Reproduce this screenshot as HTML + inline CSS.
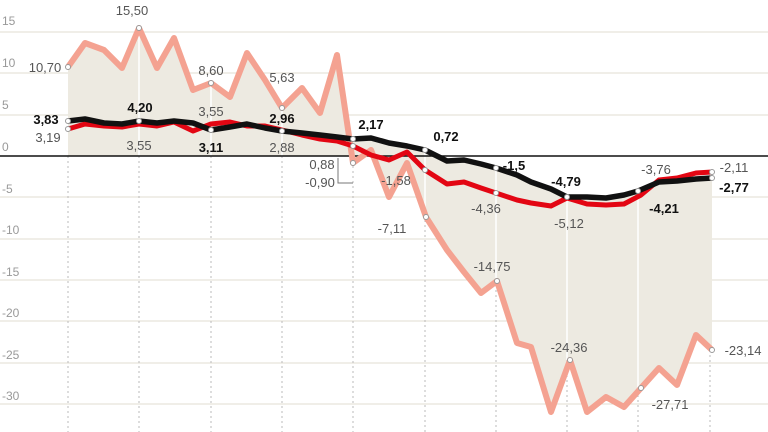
<!DOCTYPE html><html><head><meta charset="utf-8"><style>
html,body{margin:0;padding:0;background:#fff}
svg{display:block}
text{font-family:"Liberation Sans",sans-serif;font-size:13px;fill:#555}
.b{font-weight:bold;fill:#111}
.ax{fill:#999;font-size:12px}
</style></head><body>
<svg width="768" height="432" viewBox="0 0 768 432">
<g stroke="#e2ddd0" stroke-width="1">
<line x1="0" y1="32" x2="768" y2="32"/><line x1="0" y1="73" x2="768" y2="73"/><line x1="0" y1="115" x2="768" y2="115"/>
<line x1="0" y1="197" x2="768" y2="197"/><line x1="0" y1="239" x2="768" y2="239"/><line x1="0" y1="280" x2="768" y2="280"/>
<line x1="0" y1="321" x2="768" y2="321"/><line x1="0" y1="363" x2="768" y2="363"/><line x1="0" y1="404" x2="768" y2="404"/>
</g>
<g class="ax"><text class="ax" x="2" y="25">15</text><text class="ax" x="2" y="67">10</text><text class="ax" x="2" y="109">5</text><text class="ax" x="2" y="151">0</text><text class="ax" x="2" y="193">-5</text><text class="ax" x="2" y="234">-10</text><text class="ax" x="2" y="276">-15</text><text class="ax" x="2" y="317">-20</text><text class="ax" x="2" y="359">-25</text><text class="ax" x="2" y="400">-30</text></g>
<polygon fill="#edeae1" points="68,67 85,43 104,50 122,68 139,28 157,68 174,38 193,90 211,83 230,97 247,53 265,80 282,108 302,88 320,113 337,55 353,163 371,150 389,197 407,163 426,217 447,250 464,272 481,293 497,281 517,343 531,347 551,412 570,360 587,412 606,397 624,407 641,388 659,368 677,385 696,335 712,350 712,178 696,179 677,181 659,182 638,191 624,195 606,198 587,197 567,197 551,189 531,182 517,175 496,168 481,164 464,160 447,161 425,150 407,146 389,143 371,138 353,139 353,156 68,156"/>
<g stroke="#bbb" stroke-width="1" stroke-dasharray="2,3">
<line x1="68" y1="156" x2="68" y2="432"/><line x1="139" y1="156" x2="139" y2="432"/><line x1="211" y1="156" x2="211" y2="432"/><line x1="282" y1="156" x2="282" y2="432"/><line x1="353" y1="156" x2="353" y2="432"/><line x1="425" y1="220" x2="425" y2="432"/><line x1="496" y1="285" x2="496" y2="432"/><line x1="567" y1="360" x2="567" y2="432"/><line x1="638" y1="390" x2="638" y2="432"/><line x1="710" y1="350" x2="710" y2="432"/>
</g>
<g stroke="#fff" stroke-width="1.5">
<line x1="139" y1="28" x2="139" y2="156"/><line x1="211" y1="83" x2="211" y2="156"/><line x1="282" y1="108" x2="282" y2="156"/><line x1="425" y1="150" x2="425" y2="217"/><line x1="496" y1="168" x2="496" y2="281"/><line x1="567" y1="197" x2="567" y2="360"/><line x1="638" y1="191" x2="638" y2="388"/>
</g>
<line x1="0" y1="156" x2="768" y2="156" stroke="#111" stroke-width="1.5"/>
<polyline fill="none" stroke="#f4a291" stroke-width="6" stroke-linejoin="round" points="68,67 85,43 104,50 122,68 139,28 157,68 174,38 193,90 211,83 230,97 247,53 265,80 282,108 302,88 320,113 337,55 353,163 371,150 389,197 407,163 426,217 447,250 464,272 481,293 497,281 517,343 531,347 551,412 570,360 587,412 606,397 624,407 641,388 659,368 677,385 696,335 712,350"/>
<polyline fill="none" stroke="#e30613" stroke-width="5" stroke-linejoin="round" points="68,129 85,124 104,126 122,127 139,124 157,126 174,122 193,131 211,124 230,122 247,126 265,126 282,130 302,135 320,139 337,141 353,146 371,155 389,160 407,152 425,170 447,184 464,182 481,188 496,193 517,200 531,203 551,206 567,198 587,204 606,205 624,204 641,195 659,180 677,178 696,173 712,172"/>
<polyline fill="none" stroke="#111" stroke-width="5.5" stroke-linejoin="round" points="68,121 85,119 104,123 122,124 139,121 157,123 174,121 193,123 211,130 230,127 247,124 265,128 282,131 302,133 320,135 337,137 353,139 371,138 389,143 407,146 425,150 447,161 464,160 481,164 496,168 517,175 531,182 551,189 567,197 587,197 606,198 624,195 638,191 659,182 677,181 696,179 712,178"/>
<g fill="#fff" stroke="#999" stroke-width="1">
<circle cx="68" cy="67" r="2.5"/><circle cx="139" cy="28" r="2.5"/><circle cx="211" cy="83" r="2.5"/><circle cx="282" cy="108" r="2.5"/><circle cx="353" cy="163" r="2.5"/><circle cx="426" cy="217" r="2.5"/><circle cx="497" cy="281" r="2.5"/><circle cx="570" cy="360" r="2.5"/><circle cx="641" cy="388" r="2.5"/><circle cx="712" cy="350" r="2.5"/>
<circle cx="68" cy="121" r="2.5"/><circle cx="68" cy="129" r="2.5"/><circle cx="139" cy="121" r="2.5"/><circle cx="211" cy="130" r="2.5"/><circle cx="282" cy="131" r="2.5"/><circle cx="353" cy="139" r="2.5"/><circle cx="353" cy="146" r="2.5"/><circle cx="425" cy="150" r="2.5"/><circle cx="425" cy="170" r="2.5"/><circle cx="496" cy="168" r="2.5"/><circle cx="496" cy="193" r="2.5"/><circle cx="567" cy="197" r="2.5"/><circle cx="638" cy="191" r="2.5"/><circle cx="712" cy="178" r="2.5"/><circle cx="712" cy="172" r="2.5"/>
</g>
<polyline fill="none" stroke="#777" stroke-width="1" points="338,158 338,183 344,183"/>
<line x1="344" y1="183" x2="353" y2="183" stroke="#777"/>
<g text-anchor="middle">
<text x="132" y="15">15,50</text><text x="211" y="75">8,60</text><text x="282" y="82">5,63</text>
<text x="48" y="142">3,19</text><text x="139" y="150">3,55</text><text x="211" y="116">3,55</text><text x="282" y="152">2,88</text>
<text x="322" y="169">0,88</text><text x="320" y="187">-0,90</text>
<text x="396" y="185">-1,58</text><text x="392" y="233">-7,11</text><text x="486" y="213">-4,36</text><text x="492" y="271">-14,75</text>
<text x="569" y="228">-5,12</text><text x="656" y="174">-3,76</text><text x="569" y="352">-24,36</text><text x="670" y="409">-27,71</text>
<text x="734" y="172">-2,11</text><text x="743" y="355">-23,14</text><text x="45" y="72">10,70</text>
<text class="b" x="46" y="124">3,83</text><text class="b" x="140" y="112">4,20</text><text class="b" x="211" y="152">3,11</text><text class="b" x="282" y="123">2,96</text>
<text class="b" x="371" y="129">2,17</text><text class="b" x="446" y="141">0,72</text><text class="b" x="514" y="170">-1,5</text>
<text class="b" x="566" y="186">-4,79</text><text class="b" x="664" y="213">-4,21</text><text class="b" x="734" y="192">-2,77</text>
</g>
</svg>
</body></html>
